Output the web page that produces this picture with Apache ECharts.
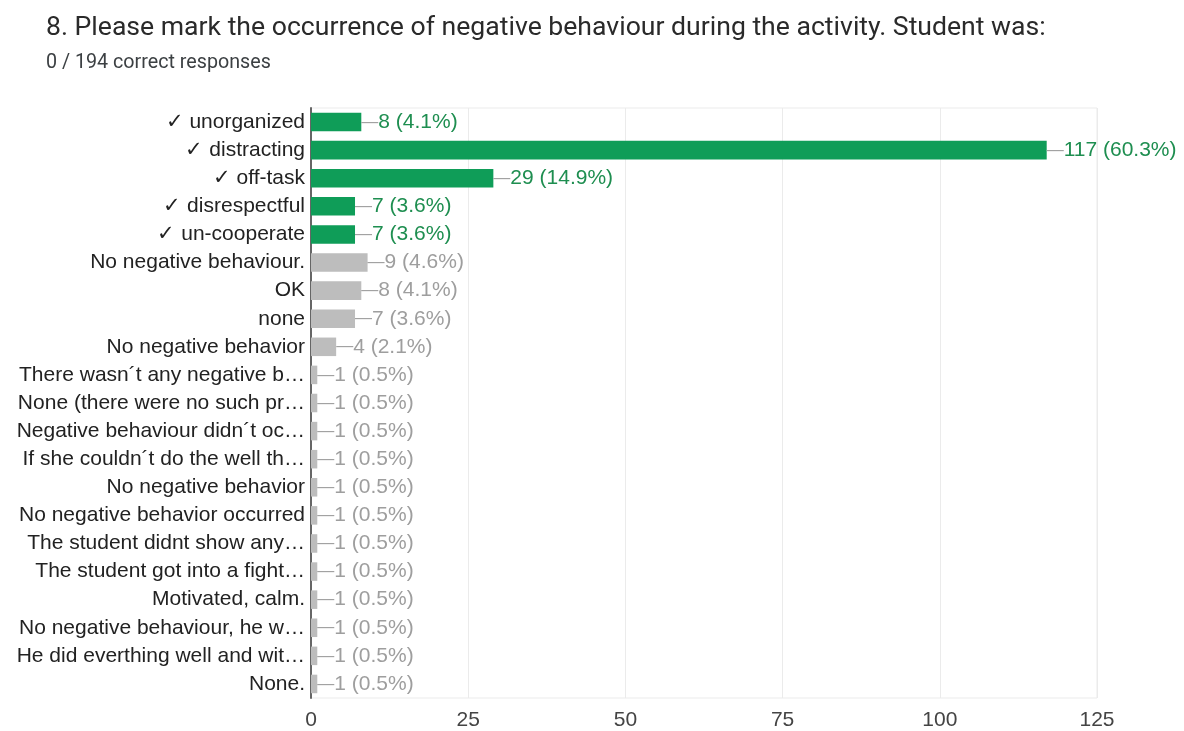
<!DOCTYPE html>
<html>
<head>
<meta charset="utf-8">
<script src="https://cdn.jsdelivr.net/npm/echarts@6/dist/echarts.min.js"></script>
<style>
  html, body { margin: 0; padding: 0; background: #ffffff; }
  #chart { width: 1184px; height: 731px; }
</style>
</head>
<body>
<div id="chart"></div>
<script>
// Answer options, top to bottom
const categories = [
  '✓ unorganized',
  '✓ distracting',
  '✓ off-task',
  '✓ disrespectful',
  '✓ un-cooperate',
  'No negative behaviour.',
  'OK',
  'none',
  'No negative behavior',
  'There wasn´t any negative b…',
  'None (there were no such pr…',
  'Negative behaviour didn´t oc…',
  'If she couldn´t do the well th…',
  'No negative behavior',
  'No negative behavior occurred',
  'The student didnt show any…',
  'The student got into a fight…',
  'Motivated, calm.',
  'No negative behaviour, he w…',
  'He did everthing well and wit…',
  'None.'
];
// Number of responses per option
const counts = [8, 117, 29, 7, 7, 9, 8, 7, 4, 1, 1, 1, 1, 1, 1, 1, 1, 1, 1, 1, 1];
// Whether the option is one of the correct (checked) answers
const correct = [true, true, true, true, true, false, false, false, false, false,
  false, false, false, false, false, false, false, false, false, false, false];
const totalResponses = 194;
const xTicks = [0, 25, 50, 75, 100, 125];

const GREEN = '#0f9d58';
const GREEN_TEXT = '#1e8e50';
const GREY = '#bdbdbd';
const GREY_TEXT = '#9e9e9e';

const chart = echarts.init(document.getElementById('chart'));

const barData = counts.map((v, i) => ({
  value: v,
  itemStyle: { color: correct[i] ? GREEN : GREY },
  label: { rich: { v: { color: correct[i] ? GREEN_TEXT : GREY_TEXT } } }
}));

chart.setOption({
  animation: false,
  title: [
    {
      text: '8. Please mark the occurrence of negative behaviour during the activity. Student was:',
      left: 41, top: 10,
      textStyle: { fontFamily: 'Roboto', fontSize: 26.6, fontWeight: 'normal', color: '#2a2a2a' }
    },
    {
      text: '0 / ' + totalResponses + ' correct responses',
      left: 41, top: 48,
      textStyle: { fontFamily: 'Roboto', fontSize: 19.7, fontWeight: 'normal', color: '#3c4043' }
    }
  ],
  grid: {
    left: 311, right: 87, top: 108, bottom: 30,
    show: true, borderColor: '#ebebeb', borderWidth: 1
  },
  xAxis: {
    type: 'value',
    min: xTicks[0], max: xTicks[xTicks.length - 1], interval: 25,
    axisLine: { show: false },
    axisTick: { show: false },
    splitLine: { lineStyle: { color: '#ebebeb', width: 1 } },
    axisLabel: {
      fontFamily: 'Liberation Sans, Arial', fontSize: 21, color: '#444444', margin: 12
    }
  },
  yAxis: {
    type: 'category',
    data: categories,
    inverse: true,
    axisLine: { show: true, lineStyle: { color: '#666666', width: 2 } },
    axisTick: { show: false },
    splitLine: { show: false },
    axisLabel: {
      fontFamily: 'Liberation Sans, Arial', fontSize: 21, color: '#222222', margin: 6
    }
  },
  series: [{
    type: 'bar',
    data: barData,
    barCategoryGap: '34%',
    label: {
      show: true,
      position: 'right',
      distance: 0,
      formatter: (p) => '{d|—}{v|' + p.value + ' (' + (p.value / totalResponses * 100).toFixed(1) + '%)}',
      rich: {
        d: { fontFamily: 'Liberation Sans, Arial', fontSize: 17, color: '#a0a0a0' },
        v: { fontFamily: 'Liberation Sans, Arial', fontSize: 21 }
      }
    }
  }]
});
</script>
</body>
</html>
